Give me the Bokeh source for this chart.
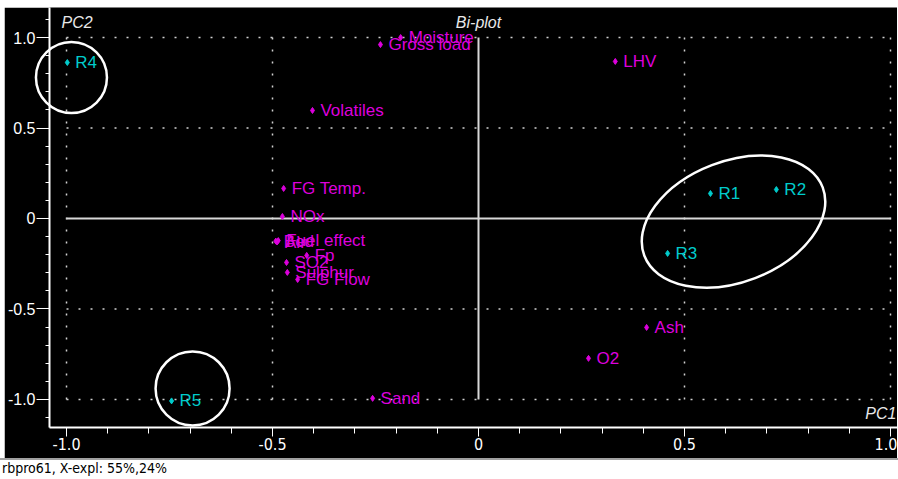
from bokeh.plotting import figure
from bokeh.models import Range1d, FixedTicker, Label, LabelSet, Div, ColumnDataSource, Spacer
from bokeh.layouts import column, row
from bokeh.embed import file_html
from bokeh.resources import INLINE
from bokeh.core.properties import value

# ---- data ----
obj_names = ["R1", "R2", "R3", "R4", "R5"]
obj_pc1 = [0.563, 0.723, 0.459, -0.998, -0.745]
obj_pc2 = [0.138, 0.160, -0.193, 0.862, -1.008]

var_names = ["Moisture", "Gross load", "LHV", "Volatiles", "FG Temp.", "NOx",
             "Bed", "Air", "Fuel effect", "Fp", "SO2", "Sulphur", "FG Flow",
             "Ash", "O2", "Sand"]
var_pc1 = [-0.189, -0.238, 0.332, -0.403, -0.473, -0.476,
           -0.492, -0.489, -0.486, -0.417, -0.466, -0.464, -0.439,
           0.408, 0.267, -0.257]
var_pc2 = [1.000, 0.961, 0.868, 0.597, 0.166, 0.011,
           -0.125, -0.130, -0.122, -0.204, -0.243, -0.298, -0.337,
           -0.602, -0.773, -0.994]

major_ticks = [-1.0, -0.5, 0.0, 0.5, 1.0]
tick_labels = ["-1.0", "-0.5", "0", "0.5", "1.0"]
grid_ticks = [-1.0, -0.5, 0.5, 1.0]
axis_limits = [-1.0, 1.0]

# circled groups (centre in data units, size in screen px)
ring_pc1 = [-0.988, -0.694, 0.619]
ring_pc2 = [0.779, -0.939, -0.017]

footer_text = "rbpro61, X-expl: 55%,24%"

MAG = "#DD00DD"
CYA = "#00CCCC"
FONT = "Liberation Sans"
NARROW = "Liberation Sans Narrow, DejaVu Sans Condensed, sans-serif"

p = figure(width=893, height=451, output_backend="svg", toolbar_location=None,
           x_range=Range1d(-1.0413, 1.017), y_range=Range1d(-1.155, 1.166),
           background_fill_color="black", border_fill_color="black",
           min_border_left=45, min_border_right=0, min_border_top=0,
           min_border_bottom=31)
p.outline_line_color = None
p.grid.visible = False

minor = [i / 10 for i in range(-12, 13)]
for ax in (p.xaxis[0], p.yaxis[0]):
    ax.ticker = FixedTicker(ticks=major_ticks, minor_ticks=minor)
    ax.major_label_overrides = dict(zip(major_ticks, tick_labels))
    ax.axis_line_color = "white"
    ax.axis_line_width = 2
    ax.major_tick_line_color = "white"
    ax.minor_tick_line_color = "white"
    ax.major_tick_in = 0
    ax.minor_tick_in = 0
    ax.major_label_text_color = "white"

p.xaxis.major_tick_out = 9
p.xaxis.minor_tick_out = 6
p.xaxis.major_label_standoff = 1
p.xaxis.major_label_text_font = NARROW
p.xaxis.major_label_text_font_size = "16px"

p.yaxis.major_tick_out = 13
p.yaxis.minor_tick_out = 4
p.yaxis.major_label_standoff = 1
p.yaxis.major_label_text_font = FONT
p.yaxis.major_label_text_font_size = "16px"

# dotted grid lines limited to [-1, 1]
g = ColumnDataSource(dict(t=grid_ticks, lo=[axis_limits[0]] * len(grid_ticks),
                          hi=[axis_limits[1]] * len(grid_ticks)))
p.segment(x0="t", x1="t", y0="lo", y1="hi", source=g, line_color="#D0D0D0",
          line_width=1.5, line_dash="2 10")
p.segment(x0="lo", x1="hi", y0="t", y1="t", source=g, line_color="#D0D0D0",
          line_width=1.5, line_dash="2 10")

# zero lines
p.segment(x0=[axis_limits[0]], x1=[axis_limits[1]], y0=[0], y1=[0],
          line_color="#D8D8D8", line_width=2)
p.segment(x0=[0], x1=[0], y0=[axis_limits[0]], y1=[axis_limits[1]],
          line_color="#D8D8D8", line_width=2)

# rings
p.ellipse(x=ring_pc1, y=ring_pc2, width=[71, 74, 191], height=[71, 74, 121],
          angle=[0, 0, 0.366], width_units="screen", height_units="screen",
          fill_color=None, line_color="white", line_width=2.5, level="overlay")

vs = ColumnDataSource(dict(x=var_pc1, y=var_pc2, n=var_names))
os_ = ColumnDataSource(dict(x=obj_pc1, y=obj_pc2, n=obj_names))

p.scatter("x", "y", source=vs, marker="diamond", size=6, color=MAG)
p.scatter("x", "y", source=os_, marker="diamond", size=6, color=CYA)

p.add_layout(LabelSet(x="x", y="y", text="n", source=vs, x_offset=8,
                      text_baseline="middle", text_color=MAG,
                      text_font=value(FONT), text_font_size="17px"))
p.add_layout(LabelSet(x="x", y="y", text="n", source=os_, x_offset=8,
                      text_baseline="middle", text_color=CYA,
                      text_font=value(FONT), text_font_size="17px"))

lab = dict(text_color="#E8E8E8", text_font=FONT, text_font_size="16px",
           text_font_style="italic", text_baseline="middle")
p.add_layout(Label(x=-1.0, y=1.0, x_offset=-5, y_offset=15, text="PC2", **lab))
p.add_layout(Label(x=0.0, y=1.0, y_offset=15, text="Bi-plot",
                   text_align="center", **lab))
p.add_layout(Label(x=1.0, y=-1.0, x_offset=6, y_offset=-14, text="PC1",
                   text_align="right", **lab))

footer = Div(text=footer_text, width=898, height=20,
             styles={"background-color": "white", "color": "black",
                     "font-family": NARROW, "font-size": "14px",
                     "border-top": "2px solid #A0A0A0", "line-height": "16px",
                     "box-sizing": "border-box", "padding": "0px 0px 0px 2px",
                     "margin": "0px", "overflow": "visible"})

layout = column(Spacer(width=898, height=7),
                row(Spacer(width=4, height=451), p, spacing=0),
                footer, spacing=0)
open("out.html", "w").write(file_html(layout, INLINE))
